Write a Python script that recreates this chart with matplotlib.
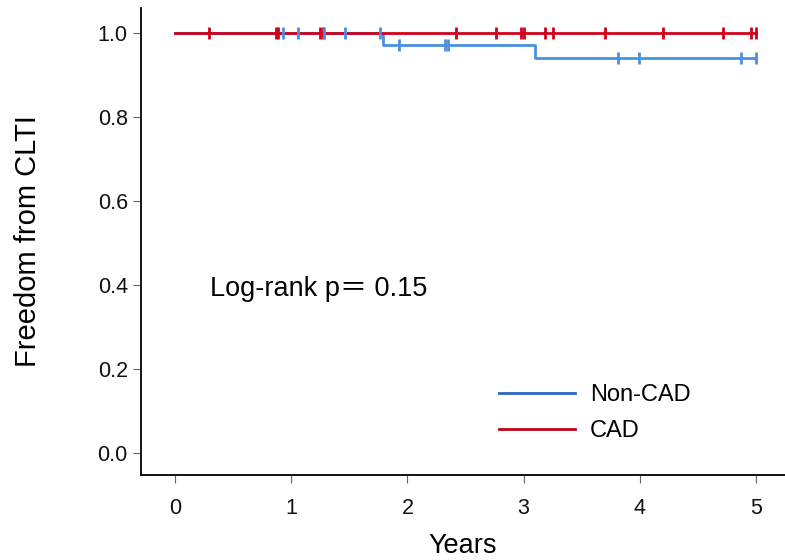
import matplotlib
matplotlib.use("Agg")
import matplotlib.pyplot as plt
from matplotlib.lines import Line2D

plt.rcParams['font.family'] = ['Liberation Sans', 'Noto Sans CJK SC', 'DejaVu Sans']

# Step curves (time, survival)
noncad_times = [0.0, 1.79, 3.10, 5.0]
noncad_surv = [1.0, 0.971, 0.940, 0.940]
cad_times = [0.0, 5.0]
cad_surv = [1.0, 1.0]

# Censoring times
noncad_censor = [0.93, 1.06, 1.28, 1.46, 1.76, 1.93, 2.32, 2.35, 3.81, 3.99, 4.87, 5.0]
cad_censor = [0.29, 0.87, 0.89, 1.25, 1.27, 2.42, 2.76, 2.98, 3.00, 3.18, 3.25, 3.70, 4.20, 4.72, 4.96, 5.0]

labels = ["Non-CAD", "CAD"]
xticks = [0, 1, 2, 3, 4, 5]
yticks = [0.0, 0.2, 0.4, 0.6, 0.8, 1.0]

blue = "#4a8fe0"
red = "#d0021b"
blue_leg = "#2d63c8"
red_leg = "#c0001a"

def surv_at(times, surv, t):
    s = surv[0]
    for ti, si in zip(times, surv):
        if ti <= t:
            s = si
    return s

fig = plt.figure(figsize=(7.85, 5.6), dpi=100)
ax = fig.add_axes([141/785, 1-475/560, 1-141/785, (475-8)/560])

ax.step(noncad_times, noncad_surv, where='post', color=blue, lw=2, zorder=3)
ax.step(cad_times, cad_surv, where='post', color=red, lw=2, zorder=4)
ax.plot(cad_censor, [surv_at(cad_times, cad_surv, t) for t in cad_censor],
        linestyle='none', marker='|', markersize=8, mew=2, color=red, zorder=5)
ax.plot(noncad_censor, [surv_at(noncad_times, noncad_surv, t) for t in noncad_censor],
        linestyle='none', marker='|', markersize=8, mew=2, color=blue, zorder=6)

ax.set_xlim(-0.293, 5.25)
ax.set_ylim(-0.052, 1.06)
ax.set_xticks(xticks)
ax.set_xticklabels([str(x) for x in xticks])
ax.set_yticks(yticks)
ax.set_yticklabels([f"{y:.1f}" for y in yticks])
ax.spines['top'].set_visible(False)
ax.spines['right'].set_visible(False)
ax.spines['left'].set_linewidth(1.3)
ax.spines['bottom'].set_linewidth(1.3)
ax.tick_params(axis='both', direction='out', length=5.5, width=0.8, color='#666666',
               labelsize=15.5, labelcolor='#111111')
ax.tick_params(axis='x', pad=11)
ax.tick_params(axis='y', pad=4)

ax.set_xlabel("Years", fontsize=19.5, labelpad=10)
ax.set_ylabel("Freedom from CLTI", fontsize=21, labelpad=40)

ax.text(0.3, 0.39, "Log-rank p\uff1d 0.15", fontsize=19.5, va='center', ha='left')

handles = [Line2D([0], [0], color=blue_leg, lw=2), Line2D([0], [0], color=red_leg, lw=2)]
fig.legend(handles, labels, loc='center left', bbox_to_anchor=(478/785, 1-413/560),
           frameon=False, fontsize=17, handlelength=3.2, handletextpad=0.65, labelspacing=0.6)

fig.savefig("out.png", dpi=100)
